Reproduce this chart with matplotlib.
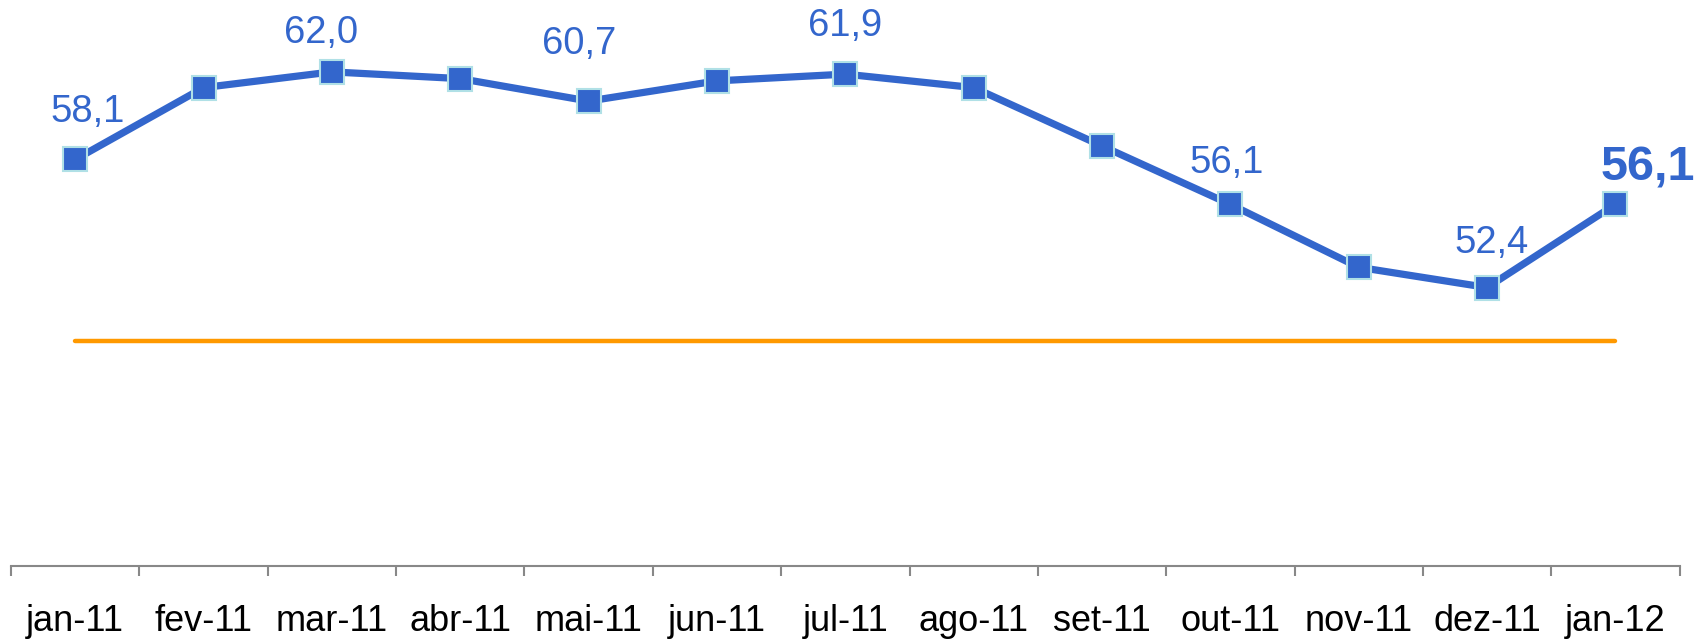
import matplotlib.pyplot as plt
import numpy as np

plt.rcParams['font.family'] = ['Liberation Sans', 'DejaVu Sans']

months = ['jan-11', 'fev-11', 'mar-11', 'abr-11', 'mai-11', 'jun-11', 'jul-11',
          'ago-11', 'set-11', 'out-11', 'nov-11', 'dez-11', 'jan-12']
values = [58.1, 61.3, 62.0, 61.7, 60.7, 61.6, 61.9, 61.3, 58.7, 56.1, 53.3, 52.4, 56.1]
reference = [50.0] * len(months)
labeled = [0, 2, 4, 6, 9, 11]
# labels were placed by hand: offset from the point in pixels (dx, baseline above)
label_dx = [12, -11, -10, 0, -4, 4]
label_gap = [37, 29, 47, 38, 31, 35]

blue = '#3366cc'
orange = '#ff9900'

fig = plt.figure(figsize=(17, 6.4), dpi=100)
ax = fig.add_axes([0.0065, 0.1156, 0.9815, 0.8844])

x = np.arange(len(months))
ax.plot(x, reference, color=orange, lw=3.2, solid_capstyle='round', zorder=2)
ax.plot(x, values, color=blue, lw=5.2, marker='s', markersize=17,
        markerfacecolor=blue, markeredgecolor='#b0e0e6', markeredgewidth=1.5, zorder=3)

for i, dx, gap in zip(labeled, label_dx, label_gap):
    ax.annotate(f'{values[i]:.1f}'.replace('.', ','), (x[i], values[i]),
                xytext=(dx * 0.72, gap * 0.72), textcoords='offset points',
                ha='center', va='baseline', fontsize=27.5, color=blue)
last = len(months) - 1
ax.annotate(f'{values[last]:.1f}'.replace('.', ','), (x[last], values[last]),
            xytext=(32 * 0.72, 17), textcoords='offset points', ha='center', va='baseline',
            fontsize=35, color=blue, fontweight='bold')

ax.set_xlim(-0.5, len(months) - 0.5)
ax.set_ylim(40, 65.2)
ax.set_yticks([])
for s in ['top', 'right', 'left']:
    ax.spines[s].set_visible(False)
ax.spines['bottom'].set_color('#888888')
ax.spines['bottom'].set_linewidth(1.5)

ax.set_xticks(x)
ax.set_xticklabels(months, fontsize=26)
ax.tick_params(axis='x', which='major', length=0, pad=27)
ax.set_xticks(np.arange(-0.5, len(months), 1), minor=True)
ax.tick_params(axis='x', which='minor', length=7, width=1.5, color='#888888', direction='out')

fig.savefig('out.png', dpi=100)
